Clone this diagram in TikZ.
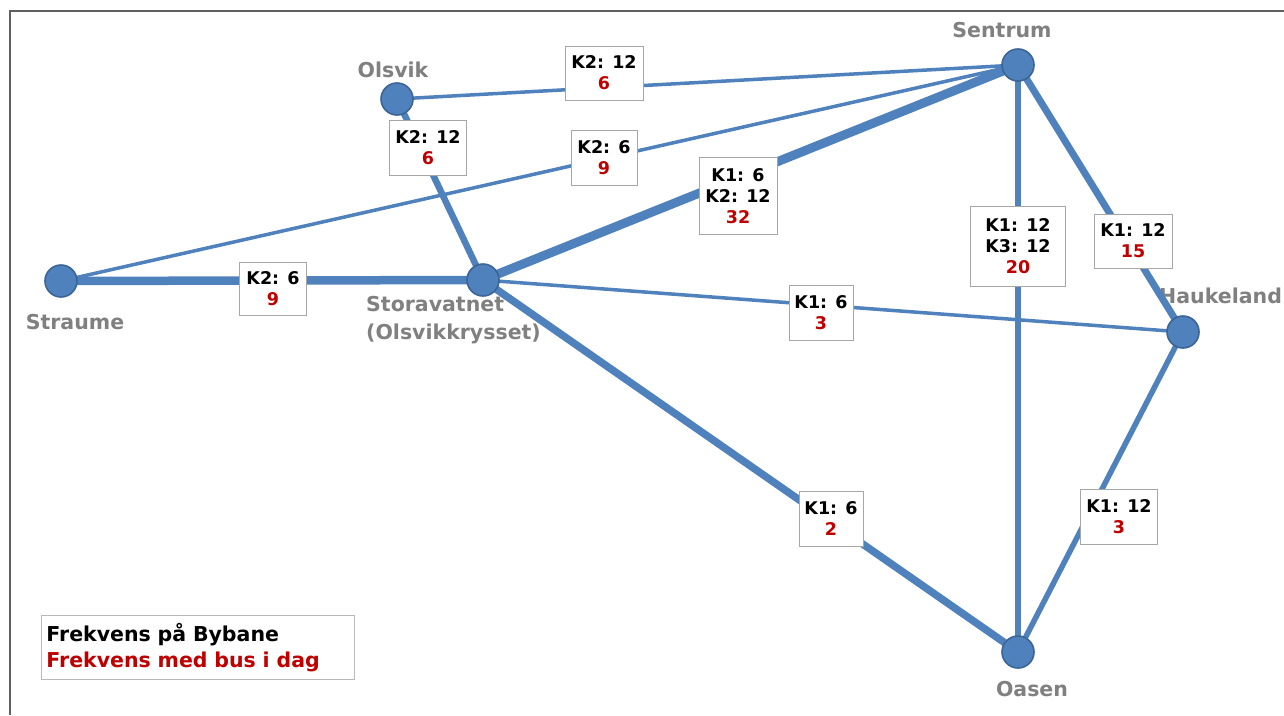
\documentclass[tikz,border=0pt]{standalone}
\usepackage{fontspec}
\setmainfont{DejaVu Sans}
\definecolor{lineblue}{HTML}{4F81BD}
\definecolor{nodeedge}{HTML}{3A6596}
\definecolor{busred}{HTML}{C00000}
\definecolor{namegray}{HTML}{808080}
\definecolor{boxgray}{HTML}{A6A6A6}
\definecolor{framegray}{HTML}{606060}
\pgfdeclarelayer{paper}
\pgfdeclarelayer{bg}
\pgfsetlayers{paper,bg,main}
\tikzset{
  stop/.style={circle, fill=lineblue, draw=nodeedge, line width=1.6pt, minimum size=32pt, inner sep=0pt},
  stopname/.style={text=namegray, font=\fontsize{20.5}{24}\selectfont\bfseries, inner sep=0pt},
  freq/.style={draw=boxgray, line width=0.9pt, fill=white, align=center, inner sep=0pt,
    font=\fontsize{17.5}{21}\selectfont\bfseries},
  thinline/.style={draw=lineblue, line width=3.5pt},
  midline/.style={draw=lineblue, line width=6.5pt},
  thickline/.style={draw=lineblue, line width=8.5pt},
}
\newcommand{\bus}[1]{\textcolor{busred}{#1}}
\begin{document}
\begin{tikzpicture}[x=1pt,y=1pt]
\useasboundingbox (0,0) rectangle (1284,-715);
\begin{pgfonlayer}{paper}
\fill[white] (0,0) rectangle (1284,-715);
\draw[framegray, line width=2.5pt] (10,-715) -- (10,-11) -- (1284,-11);
\end{pgfonlayer}

% stations
\node[stop] (olsvik) at (397,-99) {};
\node[stop] (sentrum) at (1018,-65) {};
\node[stop] (straume) at (61,-281) {};
\node[stop] (stora) at (483,-280) {};
\node[stop] (hauk) at (1183,-332) {};
\node[stop] (oasen) at (1018,-652) {};

\begin{pgfonlayer}{bg}
\node[stopname] (nolsvik) at (393,-70) {Olsvik};
\node[stopname] (nsentrum) at (1002,-30) {Sentrum};
\node[stopname] (nstraume) at (75,-322) {Straume};
\node[stopname, anchor=west, align=left, font=\fontsize{20.5}{28}\selectfont\bfseries] (nstora) at (366,-320) {Storavatnet\\(Olsvikkrysset)};
\node[stopname, anchor=west] (nhauk) at (1159,-296) {Haukeland};
\node[stopname] (noasen) at (1032,-689) {Oasen};

\draw[thinline] (olsvik.center) -- (sentrum.center);
\draw[thinline] (straume.center) -- (sentrum.center);
\draw[thinline] (stora.center) -- (hauk.center);
\draw[midline, line width=6.5pt] (olsvik.center) -- (stora.center);
\draw[thickline] (straume.center) -- (stora.center);
\draw[thickline, line width=9pt] (stora.center) -- (sentrum.center);
\draw[midline, line width=7.5pt] (stora.center) -- (oasen.center);
\draw[midline] (sentrum.center) -- (oasen.center);
\draw[midline, line width=7pt] (sentrum.center) -- (hauk.center);
\draw[midline, line width=5.5pt] (hauk.center) -- (oasen.center);
\end{pgfonlayer}

% frequency labels
\node[freq, minimum width=78pt, minimum height=54pt] (fa) at (604,-73) {K2: 12\\\bus{6}};
\node[freq, minimum width=77pt, minimum height=55pt] (fb) at (428,-148) {K2: 12\\\bus{6}};
\node[freq, minimum width=66pt, minimum height=55pt] (fc) at (604,-158) {K2: 6\\\bus{9}};
\node[freq, minimum width=78pt, minimum height=77pt] (fd) at (738,-196) {K1: 6\\K2: 12\\\bus{32}};
\node[freq, minimum width=67pt, minimum height=53pt] (fe) at (273,-289) {K2: 6\\\bus{9}};
\node[freq, minimum width=64pt, minimum height=55pt] (ff) at (821,-313) {K1: 6\\\bus{3}};
\node[freq, minimum width=64pt, minimum height=55pt] (fg) at (831,-519) {K1: 6\\\bus{2}};
\node[freq, minimum width=95pt, minimum height=80pt] (fh) at (1018,-246) {K1: 12\\K3: 12\\\bus{20}};
\node[freq, minimum width=78pt, minimum height=54pt] (fi) at (1133,-241) {K1: 12\\\bus{15}};
\node[freq, minimum width=77pt, minimum height=55pt] (fj) at (1119,-517) {K1: 12\\\bus{3}};

% legend
\node[draw=boxgray!80, line width=0.9pt, fill=white, anchor=north west, align=left,
  minimum width=313pt, minimum height=64pt, inner xsep=5pt, inner ysep=0pt, text width=303pt,
  font=\fontsize{20.5}{26}\selectfont\bfseries] (legend) at (41,-615)
  {Frekvens på Bybane\\\bus{Frekvens med bus i dag}};
\end{tikzpicture}
\end{document}
